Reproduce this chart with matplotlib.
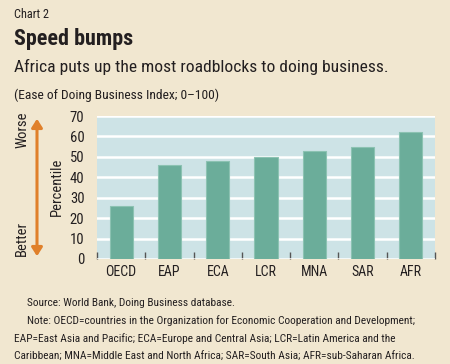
import matplotlib
matplotlib.use("Agg")
import matplotlib.pyplot as plt
from matplotlib.patches import FancyArrowPatch

plt.rcParams['font.family'] = ['Roboto Condensed', 'DejaVu Sans']

# data
regions = ['OECD', 'EAP', 'ECA', 'LCR', 'MNA', 'SAR', 'AFR']
percentile = [26, 46, 48, 50, 53, 55, 62]
yticks = [0, 10, 20, 30, 40, 50, 60, 70]

bg = '#F1E7D0'
panel = '#CDE3E6'
bar_col = '#6BAD9A'
orange = '#E0802A'
txt = '#231F20'

W, H = 450, 364
fig = plt.figure(figsize=(W / 100, H / 100), dpi=100, facecolor=bg)

def px(x, y):
    return x / W, 1 - y / H

ax = fig.add_axes([97 / W, (H - 259) / H, 338 / W, 143 / H])
ax.set_facecolor(panel)
ax.bar(range(len(regions)), percentile, width=0.48, color=bar_col,
       edgecolor='#8CC2B2', linewidth=0.8, zorder=3)
ax.set_xlim(-0.5, len(regions) - 0.5)
ax.set_ylim(0, 70)
ax.set_yticks(yticks)
ax.grid(axis='y', color='white', linewidth=1.8, zorder=1)
ax.set_xticks(range(len(regions)))
ax.set_xticklabels(regions, fontsize=10, color=txt)
ax.tick_params(axis='x', length=0, pad=4)
ax.set_xticks([i + 0.5 for i in range(-1, len(regions))], minor=True)
ax.tick_params(axis='x', which='minor', direction='in', length=5, width=1, color='#555555')
ax.tick_params(axis='y', length=0, labelsize=10.5, colors=txt, pad=9)
for s in ['top', 'right', 'left', 'bottom']:
    ax.spines[s].set_visible(False)

# side labels
fig.text(*px(57, 187), 'Percentile', rotation=90, ha='center', va='center', fontsize=10.5, color=txt)
fig.text(*px(22, 130), 'Worse', rotation=90, ha='center', va='center', fontsize=10.5, color=txt)
fig.text(*px(22, 239), 'Better', rotation=90, ha='center', va='center', fontsize=10.5, color=txt)
arr = FancyArrowPatch(px(37, 116), px(37, 259), transform=fig.transFigure,
                      arrowstyle='<|-|>,head_length=5,head_width=3.2',
                      color=orange, linewidth=2.2, mutation_scale=1)
fig.patches.append(arr)

# header
fig.text(*px(14, 15), 'Chart 2', ha='left', va='center', fontsize=8.8, color=txt)
fig.text(*px(14, 39), 'Speed bumps', ha='left', va='center', fontsize=15.8,
         fontweight='bold', color=txt)
fig.text(*px(14, 67), 'Africa puts up the most roadblocks to doing business.',
         ha='left', va='center', fontsize=12.6, color=txt)
fig.text(*px(14, 95), '(Ease of Doing Business Index; 0\u2013100)', ha='left', va='center',
         fontsize=9.7, color=txt)

# footer
fs = 8.2
fig.text(*px(27, 303), 'Source: World Bank, Doing Business database.',
         ha='left', va='center', fontsize=fs, color=txt)
fig.text(*px(27, 321), 'Note: OECD=countries in the Organization for Economic Cooperation and Development;',
         ha='left', va='center', fontsize=fs, color=txt)
fig.text(*px(14, 339), 'EAP=East Asia and Pacific; ECA=Europe and Central Asia; LCR=Latin America and the',
         ha='left', va='center', fontsize=fs, color=txt)
fig.text(*px(14, 357), 'Caribbean; MNA=Middle East and North Africa; SAR=South Asia; AFR=sub-Saharan Africa.',
         ha='left', va='center', fontsize=fs, color=txt)

fig.savefig('out.png', dpi=100, facecolor=bg)
